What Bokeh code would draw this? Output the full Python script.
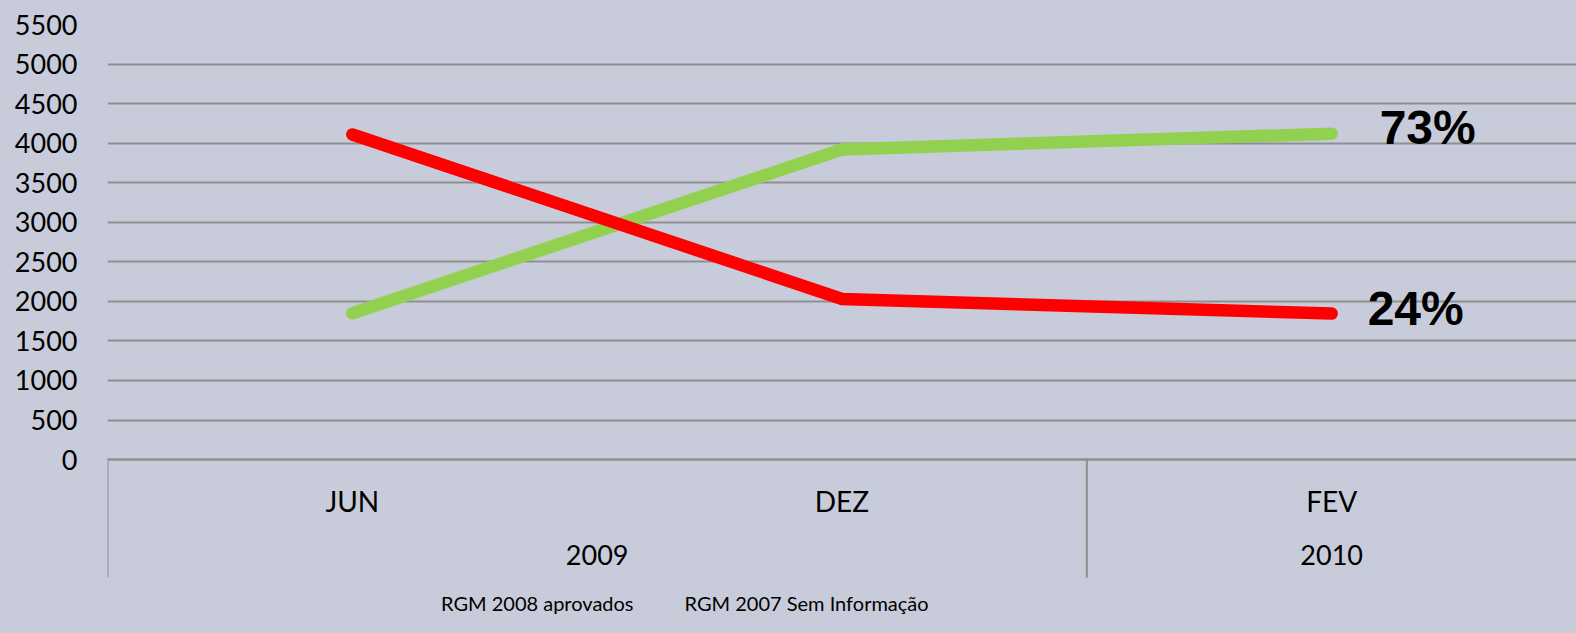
from bokeh.plotting import figure
from bokeh.models import (FactorRange, Range1d, CategoricalAxis, FixedTicker,
                          Legend, LegendItem, ColumnDataSource)
from bokeh.core.properties import value
from bokeh.embed import file_html
from bokeh.resources import INLINE

# ---------------- data ----------------
years = ["2009", "2009", "2010"]
months = ["JUN", "DEZ", "FEV"]
aprovados_2008 = [1850, 3920, 4120]          # green
sem_info_2007 = [4110, 2030, 1845]           # red
series_names = ["RGM 2008 aprovados", "RGM 2007 Sem Informação"]
pct_labels = ["73%", "24%"]
y_ticks = [0, 500, 1000, 1500, 2000, 2500, 3000, 3500, 4000, 4500, 5000, 5500]

# ---------------- style ----------------
BG = "#C8CCDA"
GRID = "#8F8F8F"
GREEN = "#92D050"
RED = "#FF0000"
FONT = "Lato"
Y_BOTTOM = -2199      # frame extends below 0 to hold the category table and legend
TABLE_BOTTOM = -1492  # lower end of the category table's vertical rules

factors = list(zip(years, months))
x_range = FactorRange(*factors, factor_padding=0, group_padding=0, range_padding=0)

p = figure(width=1576, height=633, x_range=x_range, y_range=Range1d(Y_BOTTOM, 5500),
           output_backend="svg", toolbar_location=None, x_axis_location=None,
           min_border_left=107, min_border_right=0, min_border_top=24, min_border_bottom=0,
           background_fill_color=BG, border_fill_color=BG, outline_line_color=None)

# y axis / grid
p.yaxis.ticker = FixedTicker(ticks=y_ticks)
p.yaxis.axis_line_color = None
p.yaxis.major_tick_line_color = None
p.yaxis.minor_tick_line_color = None
p.yaxis.major_tick_out = 0
p.yaxis.major_label_standoff = 30
p.yaxis.major_label_text_font = FONT
p.yaxis.major_label_text_font_size = "27px"
p.yaxis.major_label_text_color = "black"
p.ygrid.ticker = FixedTicker(ticks=y_ticks)
p.ygrid.grid_line_color = GRID
p.ygrid.grid_line_width = 2
p.xgrid.visible = False

# x axis placed at y = 0 inside the frame
xaxis = CategoricalAxis(fixed_location=0)
xaxis.axis_line_color = GRID
xaxis.axis_line_width = 2
xaxis.major_tick_line_color = None
xaxis.major_tick_out = 0
xaxis.minor_tick_line_color = None
xaxis.separator_line_color = None
xaxis.major_label_standoff = 24
xaxis.major_label_text_font = FONT
xaxis.major_label_text_font_size = "28px"
xaxis.major_label_text_color = "black"
xaxis.group_text_font = FONT
xaxis.group_text_font_size = "27px"
xaxis.group_text_color = "black"
xaxis.group_text_font_style = "normal"
p.add_layout(xaxis, "below")

# vertical separators of the category table (frame left edge and between years)
n_first_group = years.count(years[0])
sep_src = ColumnDataSource(dict(x=[0, n_first_group], y0=[0, 0],
                                y1=[TABLE_BOTTOM, TABLE_BOTTOM]))
p.segment(x0="x", y0="y0", x1="x", y1="y1", source=sep_src,
          line_color=GRID, line_width=2)

# series
p.line(x=factors, y=aprovados_2008, line_color=GREEN, line_width=12.5,
       line_cap="round", line_join="miter")
p.line(x=factors, y=sem_info_2007, line_color=RED, line_width=12.5,
       line_cap="round", line_join="miter")

# percentage annotations at the last point
lab_src = ColumnDataSource(dict(x=[factors[-1], factors[-1]],
                                y=[aprovados_2008[-1], sem_info_2007[-1]],
                                text=pct_labels, dx=[48, 36], dy=[-6, -5]))
p.text(x="x", y="y", text="text", x_offset="dx", y_offset="dy", source=lab_src,
       text_font=value("Liberation Sans"), text_font_style="bold",
       text_font_size="48px", text_baseline="middle", text_align="left",
       text_color="black")

# legend (no visible keys, as in the reference)
d1 = p.line(x=[], y=[], line_alpha=0)
d2 = p.line(x=[], y=[], line_alpha=0)
legend = Legend(items=[LegendItem(label=series_names[0], renderers=[d1]),
                       LegendItem(label=series_names[1], renderers=[d2])],
                orientation="horizontal", location=(333, 16),
                background_fill_alpha=0, border_line_color=None,
                label_text_font=FONT, label_text_font_size="20px",
                label_text_color="black", glyph_width=1, glyph_height=28,
                label_height=28, label_text_baseline="middle",
                label_standoff=0, spacing=50, padding=0, margin=0)
p.add_layout(legend, "center")

html = file_html(p, INLINE)
html = html.replace("<body>", '<body style="background-color:%s;">' % BG)
open("out.html", "w").write(html)
